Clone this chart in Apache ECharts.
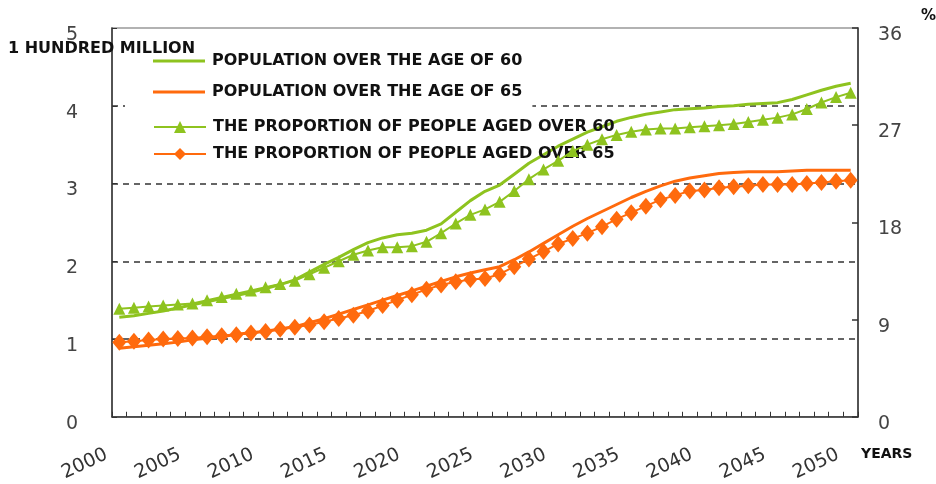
<!DOCTYPE html>
<html>
<head>
<meta charset="utf-8">
<script src="https://cdn.jsdelivr.net/npm/echarts@6/dist/echarts.min.js"></script>
<style>html,body{margin:0;padding:0;background:#fff;}#c{width:936px;height:484px;}</style>
</head>
<body>
<div id="c"></div>
<script>
var years = ['2000','2001','2002','2003','2004','2005','2006','2007','2008','2009',
  '2010','2011','2012','2013','2014','2015','2016','2017','2018','2019',
  '2020','2021','2022','2023','2024','2025','2026','2027','2028','2029',
  '2030','2031','2032','2033','2034','2035','2036','2037','2038','2039',
  '2040','2041','2042','2043','2044','2045','2046','2047','2048','2049','2050'];

var leftTicks = [0, 1, 2, 3, 4, 5];
var rightTicks = [0, 9, 18, 27, 36];

var seriesNames = ['POPULATION OVER THE AGE OF 60', 'POPULATION OVER THE AGE OF 65',
  'THE PROPORTION OF PEOPLE AGED OVER 60', 'THE PROPORTION OF PEOPLE AGED OVER 65'];

// hundred million
var pop60 = [1.28,1.30,1.33,1.36,1.40,1.44,1.48,1.52,1.56,1.60,
  1.65,1.70,1.76,1.86,1.96,2.05,2.15,2.24,2.30,2.34,
  2.36,2.40,2.48,2.63,2.78,2.90,2.98,3.12,3.26,3.37,
  3.48,3.57,3.66,3.73,3.80,3.85,3.89,3.92,3.95,3.96,
  3.97,3.99,4.00,4.02,4.03,4.04,4.08,4.14,4.20,4.25,4.29];
var pop65 = [0.88,0.90,0.92,0.94,0.96,0.99,1.01,1.03,1.06,1.08,
  1.10,1.13,1.16,1.21,1.26,1.32,1.38,1.44,1.50,1.56,
  1.62,1.68,1.74,1.80,1.85,1.89,1.93,2.02,2.12,2.23,
  2.34,2.45,2.55,2.64,2.73,2.82,2.90,2.97,3.03,3.07,
  3.10,3.13,3.14,3.15,3.15,3.15,3.16,3.17,3.17,3.17,3.17];
// percent
var prop60 = [10.0,10.1,10.2,10.3,10.4,10.5,10.8,11.1,11.4,11.7,
  12.0,12.3,12.6,13.2,13.8,14.4,15.0,15.4,15.7,15.7,
  15.8,16.2,17.0,17.9,18.7,19.2,19.9,20.9,22.0,22.9,
  23.7,24.6,25.2,25.7,26.1,26.4,26.6,26.7,26.7,26.8,
  26.9,27.0,27.1,27.3,27.5,27.7,28.0,28.5,29.1,29.6,30.0];
var prop65 = [6.9,7.0,7.1,7.2,7.25,7.3,7.4,7.5,7.6,7.75,
  7.9,8.1,8.3,8.5,8.8,9.1,9.4,9.8,10.3,10.8,
  11.3,11.8,12.2,12.5,12.7,12.8,13.2,13.9,14.6,15.3,
  16.0,16.5,17.0,17.6,18.3,18.9,19.5,20.1,20.5,20.9,
  21.0,21.2,21.3,21.4,21.5,21.5,21.5,21.6,21.7,21.8,21.9];

var GREEN = '#8EC31F';
var ORANGE = '#FF6A0D';
var boldText = {fontFamily: 'DejaVu Sans', fontWeight: 'bold', color: '#111'};

var chart = echarts.init(document.getElementById('c'), null, {renderer: 'canvas'});
chart.setOption({
  animation: false,
  backgroundColor: '#fff',
  title: [
    {text: '1 HUNDRED MILLION', left: 8, top: 41, padding: 0,
      textStyle: Object.assign({fontSize: 16}, boldText)},
    {text: '%', left: 921, top: 9, padding: 0,
      textStyle: Object.assign({fontSize: 15}, boldText)},
    {text: 'YEARS', left: 861, top: 447, padding: 0,
      textStyle: Object.assign({fontSize: 14}, boldText)}
  ],
  legend: [
    {
      data: [seriesNames[0], seriesNames[1]],
      orient: 'vertical', left: 125, top: 43,
      padding: [10, 10, 12, 28],
      backgroundColor: '#fff',
      itemGap: 15, itemWidth: 52, itemHeight: 3, icon: 'rect',
      textStyle: Object.assign({fontSize: 16, padding: [0, 0, 0, 2]}, boldText)
    },
    {
      data: [seriesNames[2], seriesNames[3]],
      orient: 'vertical', left: 153, top: 119,
      padding: 0,
      itemGap: 11, itemWidth: 52, itemHeight: 15,
      textStyle: Object.assign({fontSize: 16, padding: [0, 0, 0, 2]}, boldText)
    }
  ],
  grid: {left: 112, right: 78, top: 28, bottom: 67, show: true,
    borderColor: '#999', borderWidth: 1.5, backgroundColor: 'transparent'},
  xAxis: {
    type: 'category', data: years, boundaryGap: true,
    axisLine: {lineStyle: {color: '#333', width: 1.5}},
    axisTick: {show: true, inside: true, length: 5, interval: 0, lineStyle: {color: '#333', width: 1}},
    axisLabel: {interval: 4, rotate: 25, margin: 31, padding: [0, 14, 0, 0],
      fontFamily: 'DejaVu Sans', fontSize: 19, color: '#333'},
    splitLine: {show: false}
  },
  yAxis: [
    {
      type: 'value', min: leftTicks[0], max: leftTicks[leftTicks.length - 1], interval: 1,
      axisLine: {show: true, lineStyle: {color: '#333', width: 1.5}},
      axisTick: {show: true, inside: true, length: 5, lineStyle: {color: '#333'}},
      axisLabel: {margin: 34, fontFamily: 'DejaVu Sans', fontSize: 19, color: '#444',
        verticalAlign: 'top', lineHeight: 14},
      splitLine: {show: true, showMinLine: false, showMaxLine: false,
        lineStyle: {type: [6, 5], color: '#333', width: 1.5}}
    },
    {
      type: 'value', min: rightTicks[0], max: rightTicks[rightTicks.length - 1], interval: 9,
      position: 'right',
      axisLine: {show: true, lineStyle: {color: '#333', width: 1.5}},
      axisTick: {show: true, inside: true, length: 6, lineStyle: {color: '#333', width: 1.5}},
      axisLabel: {margin: 20, fontFamily: 'DejaVu Sans', fontSize: 19, color: '#444',
        verticalAlign: 'top', lineHeight: 14},
      splitLine: {show: false}
    }
  ],
  series: [
    {name: seriesNames[0], type: 'line', yAxisIndex: 0, data: pop60, symbol: 'none',
      lineStyle: {color: GREEN, width: 3}, itemStyle: {color: GREEN}, z: 3},
    {name: seriesNames[1], type: 'line', yAxisIndex: 0, data: pop65, symbol: 'none',
      lineStyle: {color: ORANGE, width: 3}, itemStyle: {color: ORANGE}, z: 3},
    {name: seriesNames[2], type: 'line', yAxisIndex: 1, data: prop60, symbol: 'triangle',
      symbolSize: 12, showAllSymbol: true,
      lineStyle: {color: GREEN, width: 2}, itemStyle: {color: GREEN}, z: 4},
    {name: seriesNames[3], type: 'line', yAxisIndex: 1, data: prop65, symbol: 'diamond',
      symbolSize: [14, 17], showAllSymbol: true,
      lineStyle: {color: ORANGE, width: 2}, itemStyle: {color: ORANGE}, z: 4}
  ]
});
</script>
</body>
</html>
